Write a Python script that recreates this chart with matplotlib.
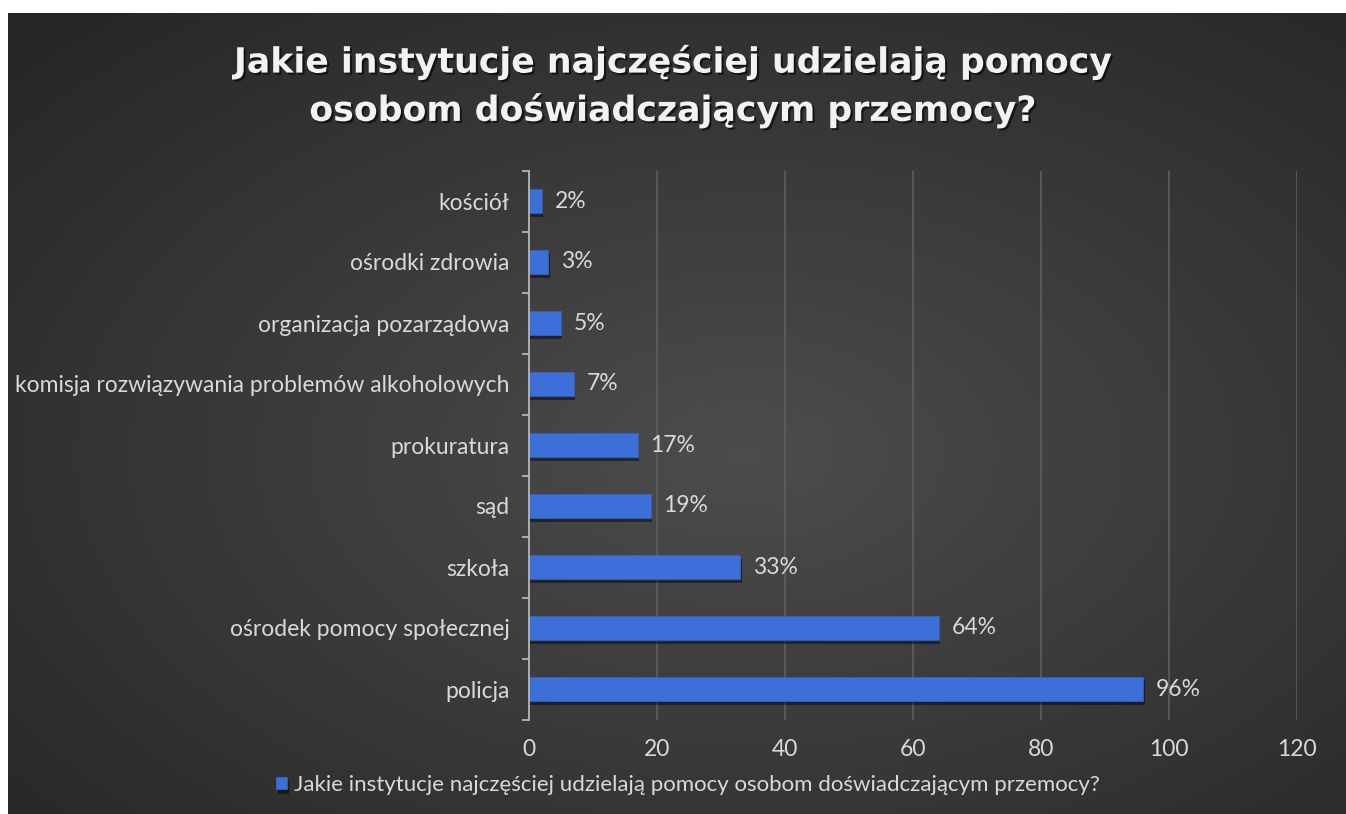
import numpy as np
import matplotlib
matplotlib.use("Agg")
import matplotlib.pyplot as plt
import matplotlib.patheffects as pe

# data (top to bottom in the picture)
categories = ["kościół", "ośrodki zdrowia", "organizacja pozarządowa",
              "komisja rozwiązywania problemów alkoholowych", "prokuratura",
              "sąd", "szkoła", "ośrodek pomocy społecznej", "policja"]
values = [2, 3, 5, 7, 17, 19, 33, 64, 96]
xticks = [0, 20, 40, 60, 80, 100, 120]
series_name = "Jakie instytucje najczęściej udzielają pomocy osobom doświadczającym przemocy?"
title = "Jakie instytucje najczęściej udzielają pomocy\nosobom doświadczającym przemocy?"

W, H = 1346, 814
fig = plt.figure(figsize=(W / 100, H / 100), dpi=100)
fig.patch.set_facecolor("white")

# dark radial gradient background (white strip left and top like the original)
bg = fig.add_axes([8 / W, 0, 1 - 8 / W, 1 - 13 / H])
yy, xx = np.mgrid[0:400, 0:660]
cx, cy = 0.55 * 660, 0.55 * 400
r = np.sqrt(((xx - cx) / 660) ** 2 + ((yy - cy) / 400) ** 2)
r = np.clip(r / 0.75, 0, 1)
shade = 0.30 - 0.15 * r
img = np.dstack([shade, shade, shade])
bg.imshow(img, aspect="auto", extent=[0, 1, 0, 1], interpolation="bicubic")
bg.set_axis_off()

# title
fig.text(0.5, 1 - 86 / H, title, ha="center", va="center", color="#f2f2f2",
         fontsize=25, fontweight="bold", family="DejaVu Sans", linespacing=1.45,
         path_effects=[pe.SimplePatchShadow(offset=(1.5, -1.5), shadow_rgbFace="black", alpha=0.6),
                       pe.Normal()])

ax = fig.add_axes([529 / W, 94.5 / H, (1297 - 529) / W, (719.5 - 170.5) / H])
ax.set_facecolor("none")

lab_font = {"family": "Lato", "size": 16.5}

y = np.arange(len(categories))
bars = ax.barh(y, values, height=0.4, color="#3d6fd8", edgecolor="#3564c8", linewidth=0.5,
               zorder=3,
               path_effects=[pe.SimplePatchShadow(offset=(1, -3), shadow_rgbFace="black", alpha=0.45),
                             pe.Normal()])

for yi, v in zip(y, values):
    ax.text(v + 2.0, yi, f"{v}%", va="center", ha="left", color="#d9d9d9", **lab_font)

ax.set_xlim(0, 120)
ax.set_ylim(len(categories) - 0.5, -0.5)
ax.set_xticks(xticks)
ax.set_xticklabels([str(t) for t in xticks], color="#d9d9d9", **lab_font)
ax.set_yticks(y)
ax.set_yticklabels(categories, color="#d9d9d9", **lab_font)
ax.set_yticks(np.arange(len(categories) + 1) - 0.5, minor=True)
ax.tick_params(axis="y", which="major", length=0, pad=14)
ax.tick_params(axis="y", which="minor", length=5, color="#bfbfbf", width=1.2, direction="out")
ax.tick_params(axis="x", length=0, pad=14)

ax.grid(axis="x", color="#5e5e5e", linewidth=1.2, zorder=0)
ax.set_axisbelow(True)
for s in ["top", "right", "bottom"]:
    ax.spines[s].set_visible(False)
ax.spines["left"].set_color("#bfbfbf")
ax.spines["left"].set_linewidth(1.2)
ax.spines["left"].set_zorder(4)

# legend at the bottom
leg = fig.legend([bars[0]], [series_name], loc="center", bbox_to_anchor=(688 / W, 1 - 785 / H),
                 frameon=False, handlelength=0.5, handleheight=0.5,
                 handletextpad=0.3, prop={"family": "Lato", "size": 16})
for t in leg.get_texts():
    t.set_color("#d9d9d9")

fig.savefig("out.png", dpi=100, facecolor=fig.get_facecolor())
